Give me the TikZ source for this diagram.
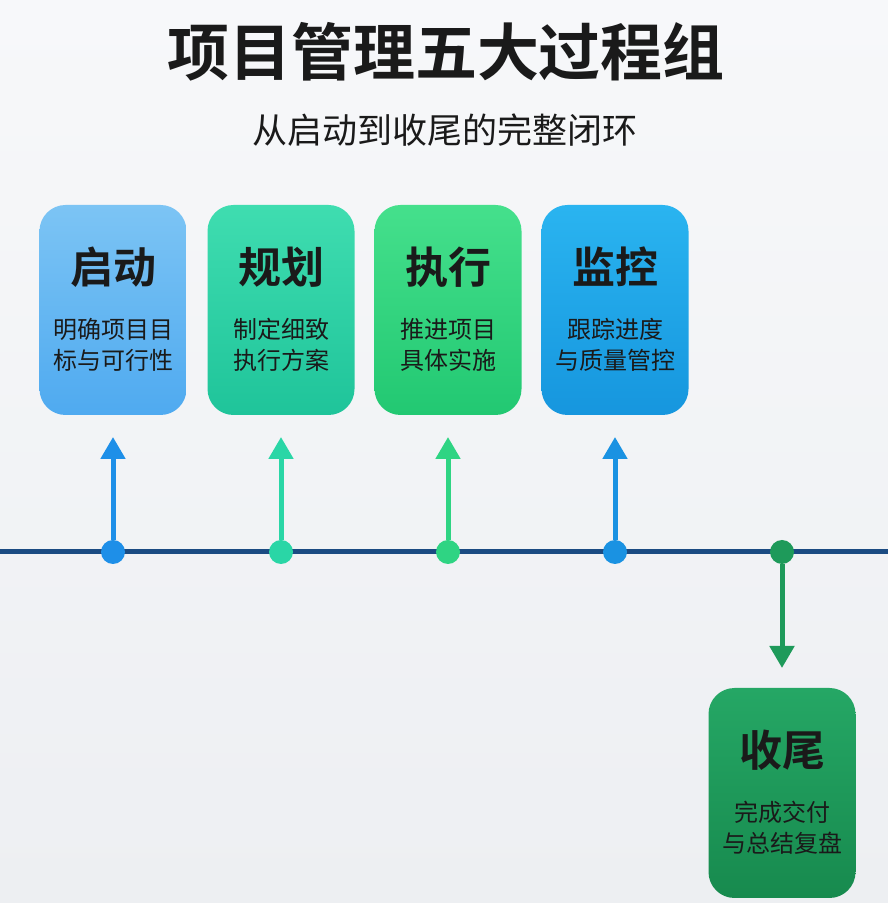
\documentclass[tikz,border=0pt]{standalone}
\usepackage{fontspec}
\setmainfont{Noto Sans CJK SC}
\newfontfamily\cjkb{Noto Sans CJK SC Bold}
\usetikzlibrary{arrows.meta}
\definecolor{bgA}{HTML}{F7F8FA}
\definecolor{bgB}{HTML}{EDEFF2}
\definecolor{lineC}{HTML}{1B4B82}
\definecolor{cA1}{HTML}{7CC4F4}\definecolor{cA2}{HTML}{4FAAF0}\definecolor{aA}{HTML}{1E8FE8}
\definecolor{cB1}{HTML}{3FDDB0}\definecolor{cB2}{HTML}{1FC49A}\definecolor{aB}{HTML}{2AD6A6}
\definecolor{cC1}{HTML}{45E08C}\definecolor{cC2}{HTML}{22C872}\definecolor{aC}{HTML}{2FD483}
\definecolor{cD1}{HTML}{2AB4F0}\definecolor{cD2}{HTML}{1696DE}\definecolor{aD}{HTML}{1A92E2}
\definecolor{cE1}{HTML}{25A765}\definecolor{cE2}{HTML}{178A4E}\definecolor{aE}{HTML}{1E9A5A}
\definecolor{txt}{HTML}{1A1A1A}
\tikzset{
 x=1pt,y=1pt,
 box/.style 2 args={minimum width=147pt,minimum height=210pt,rounded corners=26pt,top color=#1,bottom color=#2,draw=none},
 ttl/.style={font=\cjkb\fontsize{43}{45}\selectfont,text=txt},
 bdy/.style={font=\fontsize{24}{31}\selectfont,text=txt,align=center},
 dot/.style={circle,minimum size=24pt,inner sep=0pt,fill=#1},
 arr/.style={draw=#1,line width=5pt,-{Triangle[length=22pt,width=24pt]}},
}
\begin{document}
\begin{tikzpicture}
\useasboundingbox (0,0) rectangle (888,903);
\shade[top color=bgA,bottom color=bgB] (0,0) rectangle (888,903);
\node[font=\cjkb\fontsize{62}{66}\selectfont,text=txt] (title) at (446,851) {项目管理五大过程组};
\node[font=\fontsize{35}{38}\selectfont,text=txt] (sub) at (445,773) {从启动到收尾的完整闭环};
\draw[lineC,line width=5pt] (0,351) coordinate (l0) -- (888,351) coordinate (l1);
\foreach \n/\x/\ca/\cb/\ac/\t/\b in {1/113/cA1/cA2/aA/启动/明确项目目\\标与可行性,2/281/cB1/cB2/aB/规划/制定细致\\执行方案,3/448/cC1/cC2/aC/执行/推进项目\\具体实施,4/615/cD1/cD2/aD/监控/跟踪进度\\与质量管控}{
 \node[box={\ca}{\cb}] (b\n) at (\x,593) {};
 \node[ttl] (t\n) at (\x,636) {\t};
 \node[bdy] (d\n) at (\x,558) {\b};
 \node[dot=\ac] (p\n) at (\x,351) {};
 \draw[arr=\ac] (p\n.north) -- (\x,466);
}
\node[box={cE1}{cE2}] (b5) at (782,110) {};
\node[ttl] (t5) at (782,153) {收尾};
\node[bdy] (d5) at (782,75) {完成交付\\与总结复盘};
\node[dot=aE] (p5) at (782,351) {};
\draw[arr=aE] (p5.south) -- (782,235);
\end{tikzpicture}
\end{document}
